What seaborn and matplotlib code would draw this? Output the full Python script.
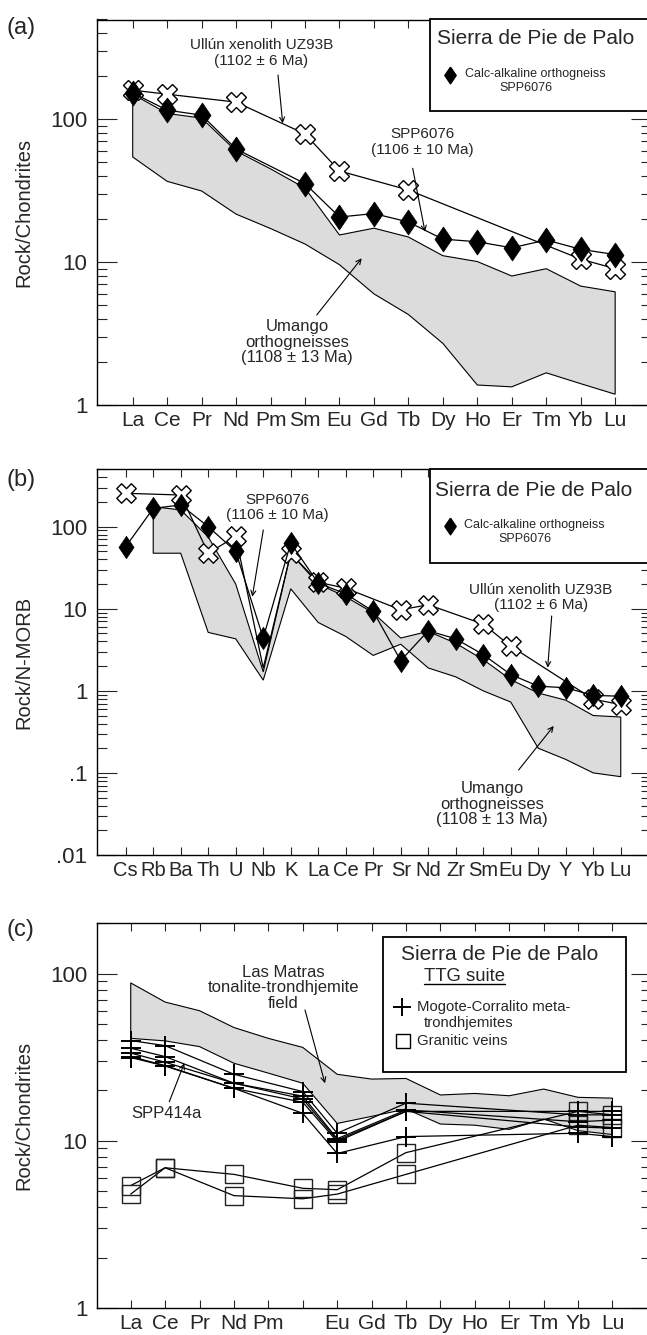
import numpy as np
import pandas as pd
import seaborn as sns
import matplotlib.pyplot as plt
from matplotlib.lines import Line2D
from matplotlib.patches import Rectangle
from matplotlib.ticker import LogLocator, NullFormatter

nan = np.nan

# (a) REE normalised to chondrites
ree = ['La', 'Ce', 'Pr', 'Nd', 'Pm', 'Sm', 'Eu', 'Gd', 'Tb', 'Dy', 'Ho', 'Er', 'Tm', 'Yb', 'Lu']
a_spp6076 = [153, 116, 107, 62, nan, 35.5, 20.7, 21.9, 19.1, 14.5, 13.9, 12.6, 14.3, 12.3, 11.3]
a_uz93b = [160, 150, nan, 132, nan, 79, 43.5, nan, 32, nan, nan, nan, nan, 10.5, 9.0]
a_umango_hi = [150, 110, 102, 60, 45, 33, 15.5, 17.3, 15.0, 11.1, 10.1, 8.0, 9.0, 6.8, 6.2]
a_umango_lo = [54.5, 36.8, 31.5, 21.7, 17.2, 13.4, 9.6, 6.0, 4.3, 2.7, 1.38, 1.34, 1.68, 1.41, 1.19]

# (b) spider diagram normalised to N-MORB
spider = ['Cs', 'Rb', 'Ba', 'Th', 'U', 'Nb', 'K', 'La', 'Ce', 'Pr', 'Sr', 'Nd', 'Zr', 'Sm', 'Eu', 'Dy', 'Y', 'Yb', 'Lu']
b_spp6076 = [57, 167, 184, 100, 50, 4.4, 63, 20.5, 15.2, 9.3, 2.33, 5.4, 4.3, 2.76, 1.58, 1.14, 1.09, 0.88, 0.86]
b_uz93b = [255, nan, 243, 47.5, 76, 1.9, 47.5, 21, 17.8, nan, 9.7, 11.2, nan, 6.5, 3.5, nan, nan, 0.79, 0.68]
b_uz93b_nosymbol = ['Nb']
b_umango_hi = [nan, 175, 160, 75, 20, 1.7, 47.5, 20, 14, 8.9, 4.4, 5.3, 3.8, 2.4, 1.37, 0.94, 0.77, 0.5, 0.48]
b_umango_lo = [nan, 47.5, 47.5, 5.15, 4.3, 1.35, 17.5, 6.8, 4.6, 2.7, 3.7, 1.9, 1.48, 1.0, 0.73, 0.2, 0.146, 0.1, 0.09]

# (c) TTG suite, REE normalised to chondrites (Sm left unlabelled)
ree_c = ['La', 'Ce', 'Pr', 'Nd', 'Pm', '', 'Eu', 'Gd', 'Tb', 'Dy', 'Ho', 'Er', 'Tm', 'Yb', 'Lu']
c_trond_1 = [39.8, 37.1, nan, 25.0, nan, 19.7, 11.1, nan, 16.8, nan, nan, nan, nan, 14.3, 14.3]
c_trond_2 = [35.8, 31.9, nan, 22.1, nan, 17.8, 10.1, nan, 15.0, nan, nan, nan, nan, 15.0, 15.0]
c_trond_3 = [33.5, 29.5, nan, 22.1, nan, 18.5, 10.3, nan, 15.3, nan, nan, nan, nan, 13.0, 13.3]
c_trond_4 = [31.9, 28.2, nan, 20.6, nan, 17.0, 9.9, nan, 15.0, nan, nan, nan, nan, 12.1, 11.9]
c_trond_5 = [31.5, 28.0, nan, 20.6, nan, 14.6, 8.4, nan, 10.6, nan, nan, nan, nan, 11.1, 10.6]
c_vein_1 = [5.4, 6.9, nan, 6.3, nan, 5.2, 5.1, nan, 8.5, nan, nan, nan, nan, 15.0, 14.3]
c_vein_2 = [4.8, 6.9, nan, 4.7, nan, 4.5, 4.8, nan, 6.3, nan, nan, nan, nan, 12.4, 12.0]
c_matras_hi = [88, 67.6, 60, 47.6, 41, 36.2, 25, 23.4, 23.6, 18.8, 19.2, 18.6, 20.4, 18.2, 18.0]
c_matras_lo = [41, 39.6, 36.6, 29.1, 25.4, 22.1, 12.7, 14.0, 15.5, 12.6, 12.4, 11.7, 13.5, 11.5, 10.9]

W, H = 647, 1335
sns.set_style('ticks')
plt.rcParams['font.family'] = ['Liberation Sans', 'DejaVu Sans']

DIAMOND = [(0, 1), (0.68, 0), (0, -1), (-0.68, 0), (0, 1)]


def px(x, y):
    # pixel position (from top-left) -> figure fraction
    return (x / W, 1 - y / H)


def draw_series(ax, values, zorder, **style):
    df = pd.DataFrame({'pos': np.arange(len(values)), 'val': values})
    sns.lineplot(data=df, x='pos', y='val', ax=ax, estimator=None, sort=False,
                 color='black', linewidth=0.9, zorder=zorder, **style)


def draw_field(ax, hi, lo):
    pos = np.arange(len(hi))
    hi = np.asarray(hi, float)
    lo = np.asarray(lo, float)
    ok = ~np.isnan(hi)
    xs = np.r_[pos[ok], pos[ok][::-1]]
    ys = np.r_[hi[ok], lo[ok][::-1]]
    ax.fill(xs, ys, facecolor='#dcdcdc', edgecolor='black', linewidth=0.8, zorder=1)


def style_axes(ax, labels, xlim, ylim, yticks, yticklabels, ylabel, xfs):
    ax.set_yscale('log')
    ax.set_xlim(xlim)
    ax.set_ylim(ylim)
    ax.set_xticks(range(len(labels)))
    ax.set_xticklabels(labels, fontsize=xfs)
    ax.set_yticks(yticks)
    ax.set_yticklabels(yticklabels, fontsize=16)
    ax.yaxis.set_minor_locator(LogLocator(base=10, subs=np.arange(2, 10)))
    ax.yaxis.set_minor_formatter(NullFormatter())
    ax.tick_params(axis='x', which='major', direction='in', length=5.5, width=0.8,
                   top=True, pad=4)
    ax.tick_params(axis='y', which='major', direction='in', length=14.5, width=0.8,
                   right=True, pad=7)
    ax.tick_params(axis='y', which='minor', direction='in', length=7.5, width=0.8,
                   right=True)
    for sp in ax.spines.values():
        sp.set_linewidth(1.0)
        sp.set_color('black')
    ax.set_xlabel('')
    ax.set_ylabel(ylabel, fontsize=14.5)
    ax.yaxis.set_label_coords(-0.115, 0.5)


def note(text, xy, size, ls=1.15):
    fig.text(*px(*xy), text, ha='center', va='center', fontsize=size,
             linespacing=ls, multialignment='center')


def arrow(start, end):
    fig.add_artist(plt.matplotlib.patches.FancyArrowPatch(
        px(*start), px(*end), transform=fig.transFigure, arrowstyle='->',
        mutation_scale=9, lw=0.8, color='black', shrinkA=0, shrinkB=0, zorder=20))


fig = plt.figure(figsize=(W / 100, H / 100), dpi=100)
left, width = 97 / W, (651 - 97) / W
ax_a = fig.add_axes([left, (H - 405) / H, width, 385.5 / H])
ax_b = fig.add_axes([left, (H - 855) / H, width, 385.7 / H])
ax_c = fig.add_axes([left, (H - 1308) / H, width, 384.7 / H])

# ---------- (a) ----------
draw_field(ax_a, a_umango_hi, a_umango_lo)
draw_series(ax_a, a_uz93b, 3, marker='X', markersize=15, markerfacecolor='white',
            markeredgecolor='black', markeredgewidth=1.0)
draw_series(ax_a, a_spp6076, 4, marker=DIAMOND, markersize=18, markerfacecolor='black',
            markeredgecolor='black', markeredgewidth=0.5)
style_axes(ax_a, ree, (-1.036, 15.04), (1, 500), [1, 10, 100], ['1', '10', '100'],
           'Rock/Chondrites', 15)

# ---------- (b) ----------
draw_field(ax_b, b_umango_hi, b_umango_lo)
draw_series(ax_b, b_uz93b, 3)
sym = pd.DataFrame({'pos': np.arange(len(spider)), 'val': b_uz93b, 'el': spider})
sym = sym[~sym['el'].isin(b_uz93b_nosymbol)].dropna()
sns.scatterplot(data=sym, x='pos', y='val', ax=ax_b, marker='X', s=14 ** 2,
                color='white', edgecolor='black', linewidth=1.0, zorder=3.5)
draw_series(ax_b, b_spp6076, 4, marker=DIAMOND, markersize=16, markerfacecolor='black',
            markeredgecolor='black', markeredgewidth=0.5)
style_axes(ax_b, spider, (-1.044, 19.1), (0.01, 500), [0.01, 0.1, 1, 10, 100],
           ['.01', '.1', '1', '10', '100'], 'Rock/N-MORB', 14.5)

# ---------- (c) ----------
draw_field(ax_c, c_matras_hi, c_matras_lo)
for vals in [c_vein_1, c_vein_2]:
    draw_series(ax_c, vals, 3, marker='s', markersize=12.5, markerfacecolor='none',
                markeredgecolor='#222222', markeredgewidth=1.0)
for vals in [c_trond_1, c_trond_2, c_trond_3, c_trond_4, c_trond_5]:
    draw_series(ax_c, vals, 4, marker='+', markersize=14, markeredgecolor='black',
                markeredgewidth=1.4)
style_axes(ax_c, ree_c, (-0.98, 15.12), (1, 200), [1, 10, 100], ['1', '10', '100'],
           'Rock/Chondrites', 15)

# panel letters
for lab, y in [('(a)', 28), ('(b)', 480), ('(c)', 930)]:
    fig.text(*px(6, y), lab, fontsize=17, ha='left', va='center')

# ---------- legend boxes ----------
for top, bottom in [(19.5, 110.7), (469.3, 562.7)]:
    x0, y0 = px(430, bottom)
    fig.add_artist(Rectangle((x0, y0), (660 - 430) / W, (bottom - top) / H,
                             transform=fig.transFigure, facecolor='white',
                             edgecolor='black', linewidth=1.3, zorder=10))
for (tx, ty), (mx, my), (t2x, t2y) in [((536, 38.3), (450.5, 75), (526, 88.3)),
                                       ((534, 490), (450, 526), (525, 539.3))]:
    fig.text(*px(tx, ty), 'Sierra de Pie de Palo', fontsize=15, ha='center',
             va='center', zorder=11)
    fig.add_artist(Line2D([mx / W], [1 - my / H], marker=DIAMOND, markersize=12,
                          color='black', transform=fig.transFigure, zorder=11))
    fig.text(*px(mx + 14.5, my - 1), 'Calc-alkaline orthogneiss', fontsize=9,
             ha='left', va='center', zorder=11)
    fig.text(*px(t2x, t2y), 'SPP6076', fontsize=9, ha='center', va='center', zorder=11)

# (c) legend
x0, y0 = px(383.3, 1072.3)
fig.add_artist(Rectangle((x0, y0), (625.7 - 383.3) / W, (1072.3 - 936.7) / H,
                         transform=fig.transFigure, facecolor='white',
                         edgecolor='black', linewidth=1.3, zorder=10))
fig.text(*px(499.3, 955), 'Sierra de Pie de Palo', fontsize=15, ha='center',
         va='center', zorder=11)
fig.text(*px(424, 976.7), 'TTG suite', fontsize=13.3, ha='left', va='center', zorder=11)
fig.add_artist(Line2D([424 / W, 505 / W], [1 - 984 / H, 1 - 984 / H], color='black',
                      lw=1.0, transform=fig.transFigure, zorder=11))
fig.add_artist(Line2D([401.7 / W], [1 - 1006.7 / H], marker='+', markersize=13,
                      markeredgewidth=1.4, color='black', transform=fig.transFigure,
                      zorder=11))
fig.text(*px(417.3, 1006.7), 'Mogote-Corralito meta-', fontsize=10.7, ha='left',
         va='center', zorder=11)
fig.text(*px(424, 1023.5), 'trondhjemites', fontsize=10.7, ha='left', va='center',
         zorder=11)
fig.add_artist(Line2D([402.7 / W], [1 - 1040.7 / H], marker='s', markersize=10.5,
                      markerfacecolor='none', markeredgecolor='black',
                      markeredgewidth=1.0, transform=fig.transFigure, zorder=11))
fig.text(*px(417.3, 1040.7), 'Granitic veins', fontsize=10.7, ha='left', va='center',
         zorder=11)

# ---------- annotations ----------
note('Ullún xenolith UZ93B\n(1102 ± 6 Ma)', (261.5, 53), 11)
arrow((278, 75), (282.7, 123.3))
note('SPP6076\n(1106 ± 10 Ma)', (422.5, 141.7), 11)
arrow((412.7, 168.3), (425, 231.7))
note('Umango\northogneisses\n(1108 ± 13 Ma)', (297, 342), 12, 1.05)
arrow((316.7, 315), (361.7, 258.3))

note('SPP6076\n(1106 ± 10 Ma)', (277.7, 507.5), 11)
arrow((263.3, 530), (252.3, 596.7))
note('Ullún xenolith UZ93B\n(1102 ± 6 Ma)', (540.7, 597.5), 11)
arrow((551.7, 616), (547.7, 667.7))
note('Umango\northogneisses\n(1108 ± 13 Ma)', (492, 804), 12, 1.05)
arrow((518.6, 770), (553.7, 726))

note('Las Matras\ntonalite-trondhjemite\nfield', (283.3, 987.7), 12, 1.05)
arrow((305, 1010), (325, 1083.3))
note('SPP414a', (166, 1113.3), 12)
arrow((169.3, 1101.7), (184.3, 1063.3))

fig.savefig('out.png', dpi=100)
